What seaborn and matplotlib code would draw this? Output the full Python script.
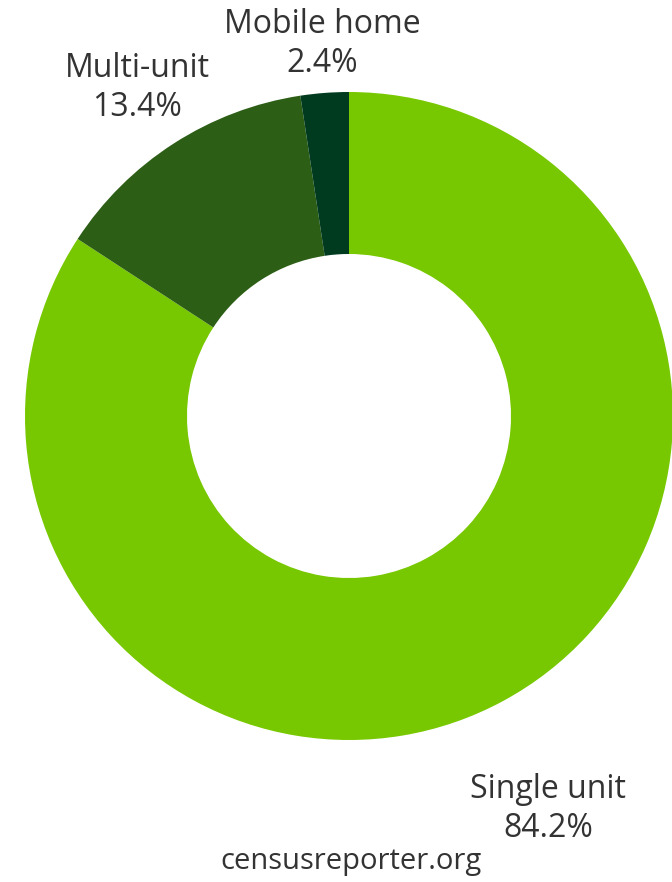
import matplotlib
matplotlib.use("Agg")
import matplotlib.pyplot as plt
import seaborn as sns

# Datos
categories = ["Single unit", "Multi-unit", "Mobile home"]
shares = [84.2, 13.4, 2.4]
colors = ["#77c800", "#2c5e15", "#003b1f"]

sns.set_theme(style="white")
plt.rcParams['font.family'] = ['Open Sans', 'DejaVu Sans']

W, H = 672, 882
fig = plt.figure(figsize=(W / 100, H / 100), dpi=100)

# Donut: centro (349, 416) px, radio 324 px
cx, cy, r = 349, 416, 324
ax = fig.add_axes([(cx - r) / W, (H - cy - r) / H, 2 * r / W, 2 * r / H])
ax.pie(shares, colors=colors, startangle=90, counterclock=False,
       radius=1, wedgeprops=dict(width=0.5, linewidth=0))
ax.set_xlim(-1, 1)
ax.set_ylim(-1, 1)
ax.axis('off')

# Etiquetas
txt = dict(ha='center', va='center', color='#333333', fontsize=23,
           linespacing=1.25)
label_pos = {"Mobile home": (322, 44), "Multi-unit": (137, 88),
             "Single unit": (548, 809)}
for cat, val in zip(categories, shares):
    x, y = label_pos[cat]
    fig.text(x / W, 1 - y / H, f"{cat}\n{val:.1f}%", **txt)

fig.text(351 / W, 1 - 861 / H, "censusreporter.org", ha='center', va='center',
         color='#333333', fontsize=21)

fig.savefig("out.png", dpi=100, facecolor='white')
